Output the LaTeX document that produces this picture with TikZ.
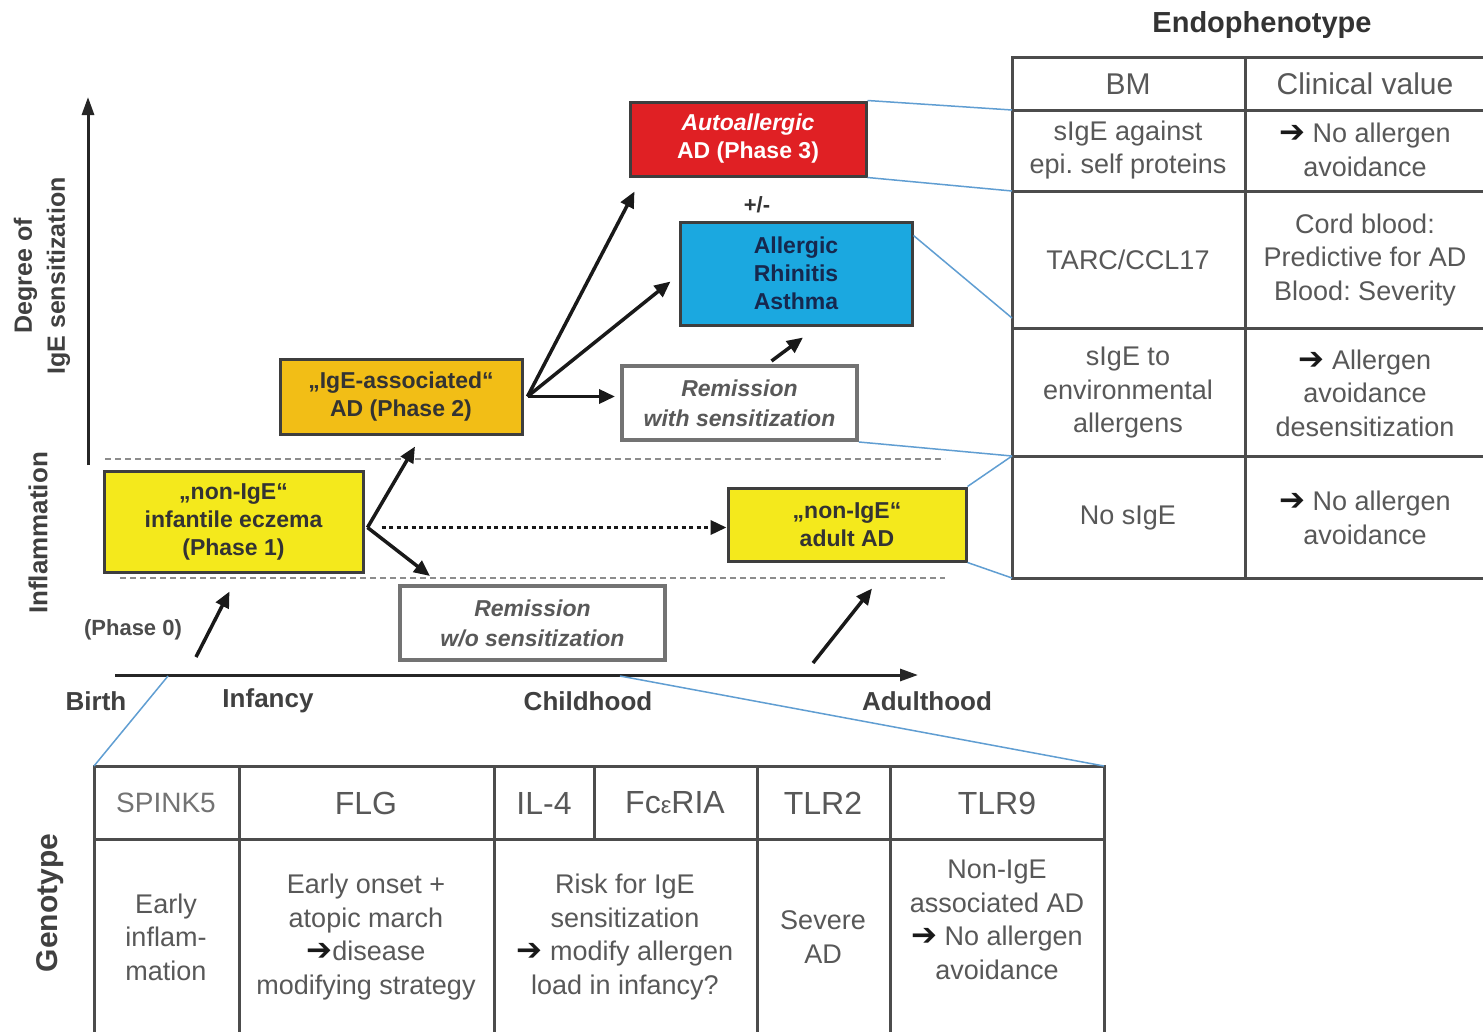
\documentclass[tikz,border=0pt]{standalone}
\usepackage{fontspec}
\setmainfont{Liberation Sans}
\newfontfamily\arrowfont{DejaVu Sans}
\usetikzlibrary{arrows.meta,shadows}
\newcommand{\hv}{{\arrowfont\bfseries\color{black!90}\fontsize{31}{33.5}\selectfont ➔}}
\newcommand{\setfs}[2]{\fontsize{#1}{#2}\selectfont}
\frenchspacing
\definecolor{phaseyellow}{RGB}{244,233,28}
\definecolor{phasegold}{RGB}{242,190,22}
\definecolor{phasered}{RGB}{224,32,36}
\definecolor{phaseblue}{RGB}{27,168,224}
\definecolor{atopynavy}{RGB}{22,40,78}
\definecolor{linkblue}{RGB}{96,158,210}
\definecolor{framegray}{RGB}{62,62,62}
\definecolor{textgray}{RGB}{88,88,88}

\begin{document}
\begin{tikzpicture}[x=1pt, y=-1pt,
    phase/.style={draw=framegray, line width=3pt, align=center, inner sep=0pt,
      font=\setfs{23}{28}\bfseries, text=black!80,
      drop shadow={shadow xshift=2pt, shadow yshift=-2pt, opacity=0.3}},
    remission/.style={draw=black!55, line width=4pt, fill=white, align=center,
      inner sep=0pt, font=\setfs{23}{30}\bfseries\itshape, text=black!65},
    flow/.style={-{Triangle[length=16pt,width=14pt]}, line width=3.5pt, black!90},
    stageline/.style={draw=black!45, line width=2.5pt, dash pattern=on 6pt off 4pt},
    bmlink/.style={draw=linkblue, line width=1.5pt},
    tableline/.style={draw=black!70, line width=3pt},
    cell/.style={align=center, inner sep=0pt, text=textgray, font=\setfs{27}{33.5}},
    headcell/.style={cell, font=\setfs{32}{36}},
    axislabel/.style={font=\setfs{26}{32}\bfseries, text=black!75, inner sep=0pt, align=center}
  ]
  \clip (0,0) rectangle (1483,1031);
  \fill[white] (0,0) rectangle (1483,1031);

  % axes
  \coordinate (yfoot) at (88,465);
  \coordinate (ytop) at (88,97);
  \coordinate (xfoot) at (115,675);
  \coordinate (xend) at (918,675);
  \draw[-{Triangle[length=18pt,width=12pt]}, line width=3pt, black!85] (yfoot) -- (ytop);
  \draw[-{Triangle[length=18pt,width=12pt]}, line width=3pt, black!85] (xfoot) -- (xend);

  \node[axislabel, rotate=90, font=\setfs{25}{33}\bfseries] (igeaxis) at (42,276) {Degree of\\IgE sensitization};
  \node[axislabel, rotate=90] (inflaxis) at (38,533) {Inflammation};
  \node[axislabel, rotate=90, font=\setfs{30}{34}\bfseries] (genolabel) at (50,903) {Genotype};

  \node[axislabel] (birth) at (96,701) {Birth};
  \node[axislabel] (infancy) at (268,701) {Infancy};
  \node[axislabel] (childhood) at (588,701) {Childhood};
  \node[axislabel] (adulthood) at (927,701) {Adulthood};

  % band of inflammation
  \draw[stageline] (105,459) -- (945,459);
  \draw[stageline] (120,578) -- (945,578);

  % phases
  \node[phase, fill=phaseyellow, minimum width=259pt, minimum height=101pt] (ph1) at (233.5,521.5)
    {„non-IgE“\\infantile eczema\\(Phase 1)};
  \node[phase, fill=phasegold, minimum width=242pt, minimum height=75pt] (ph2) at (401,396.5)
    {„IgE-associated“\\AD (Phase 2)};
  \node[phase, fill=phasered, text=white, minimum width=236pt, minimum height=74pt] (ph3) at (748,139)
    {{\itshape Autoallergic}\\AD (Phase 3)};
  \node[phase, fill=phaseblue, text=atopynavy, minimum width=232pt, minimum height=103pt] (atopy) at (796,273.5)
    {Allergic\\Rhinitis\\Asthma};
  \node[phase, fill=phaseyellow, minimum width=238pt, minimum height=73pt] (adult) at (847,524.5)
    {„non-IgE“\\adult AD};
  \node[remission, minimum width=235pt, minimum height=74pt] (remwith) at (739.5,403)
    {Remission\\with sensitization};
  \node[remission, minimum width=265pt, minimum height=74pt] (remwo) at (532.5,623)
    {Remission\\w/o sensitization};

  \node[font=\setfs{22}{26}\bfseries, text=black!80] (plusminus) at (757,205) {+/-};
  \node[font=\setfs{22}{26}\bfseries, text=black!70] (ph0) at (133,630) {(Phase 0)};

  % transitions
  \coordinate (p1out) at ([xshift=3pt,yshift=-6pt]ph1.east);
  \coordinate (p2out) at ([xshift=4pt]ph2.east);
  \coordinate (ph0foot) at (196,657);
  \coordinate (adultfoot) at (813,663);
  \draw[flow] (ph0foot) -- ([xshift=-4pt,yshift=-18pt]ph1.south);
  \draw[flow] (p1out) -- ([xshift=14pt,yshift=-11pt]ph2.south);
  \draw[flow] (p1out) -- ([xshift=32pt,yshift=8pt]remwo.north west);
  \draw[flow, dash pattern=on 4pt off 3.5pt] ([xshift=14pt]p1out) -- ([yshift=-3pt]adult.west);
  \draw[flow] (p2out) -- ([xshift=6pt,yshift=-14pt]ph3.south west);
  \draw[flow] (p2out) -- ([xshift=-8pt,yshift=-8pt]atopy.west);
  \draw[flow] (p2out) -- ([xshift=-5pt,yshift=6.5pt]remwith.west);
  \draw[flow] ([xshift=32pt,yshift=3pt]remwith.north) -- ([xshift=7pt,yshift=-11pt]atopy.south);
  \draw[flow] (adultfoot) -- ([xshift=25pt,yshift=-26pt]adult.south);

  % endophenotype table
  \node[font=\setfs{29}{34}\bfseries, text=black!80] (endo) at (1262,25) {Endophenotype};
  \draw[tableline] (1012,57) rectangle (1492,578);
  \draw[tableline] (1245,57) -- (1245,578);
  \foreach \y in {110,191,328,456}
    \draw[tableline] (1012,\y) -- (1492,\y);
  \node[cell, font=\setfs{30}{34}] (bmhead) at (1128,84) {BM};
  \node[cell, font=\setfs{30}{34}] (cvhead) at (1365,84) {Clinical value};
  \node[cell] (bm1) at (1128,150) {sIgE against\\epi. self proteins};
  \node[cell] (cv1) at (1365,150) {\hv\ No allergen\\avoidance};
  \node[cell] (bm2) at (1128,260) {TARC/CCL17};
  \node[cell] (cv2) at (1365,260) {Cord blood:\\Predictive for AD\\Blood: Severity};
  \node[cell] (bm3) at (1128,393) {sIgE to\\environmental\\allergens};
  \node[cell] (cv3) at (1365,393) {\hv\ Allergen\\avoidance\\desensitization};
  \node[cell] (bm4) at (1128,518) {No sIgE};
  \node[cell] (cv4) at (1365,518) {\hv\ No allergen\\avoidance};

  \coordinate (e1) at (1012,110);
  \coordinate (e2) at (1012,191);
  \coordinate (e3) at (1012,318);
  \coordinate (e4) at (1012,456);
  \coordinate (e5) at (1012,578);
  \draw[bmlink] (ph3.north east) -- (e1);
  \draw[bmlink] (ph3.south east) -- (e2);
  \draw[bmlink] ([yshift=-15pt]atopy.north east) -- (e3);
  \draw[bmlink] (remwith.south east) -- (e4);
  \draw[bmlink] (adult.north east) -- (e4);
  \draw[bmlink] (adult.south east) -- (e5);

  % genotype table
  \draw[tableline] (94,1040) -- (94,766) -- (1104,766) -- (1104,1040);
  \draw[tableline] (94,839) -- (1104,839);
  \foreach \x in {239,494,757,890}
    \draw[tableline] (\x,766) -- (\x,1040);
  \draw[tableline] (594,766) -- (594,839);
  \node[headcell, font=\setfs{28}{32}, text=black!55] (gh1) at (166,803) {SPINK5};
  \node[headcell] (gh2) at (366,803) {FLG};
  \node[headcell] (gh3) at (544,803) {IL-4};
  \node[headcell] (gh4) at (675,803) {Fc{\setfs{24}{30}ε}RIA};
  \node[headcell] (gh5) at (823,803) {TLR2};
  \node[headcell] (gh6) at (997,803) {TLR9};
  \node[cell] (gb1) at (166,937) {Early\\inflam-\\mation};
  \node[cell] (gb2) at (366,937) {Early onset +\\atopic march\\\hv disease\\modifying strategy};
  \node[cell] (gb3) at (625,937) {Risk for IgE\\sensitization\\\hv\ modify allergen\\load in infancy?};
  \node[cell] (gb4) at (823,937) {Severe\\AD};
  \node[cell] (gb5) at (997,920) {Non-IgE\\associated AD\\\hv\ No allergen\\avoidance};

  \coordinate (g0) at (168,676);
  \coordinate (g1) at (620,676);
  \coordinate (gl) at (94,766);
  \coordinate (gr) at (1104,766);
  \draw[bmlink] (g0) -- (gl);
  \draw[bmlink] (g1) -- (gr);
\end{tikzpicture}
\end{document}
